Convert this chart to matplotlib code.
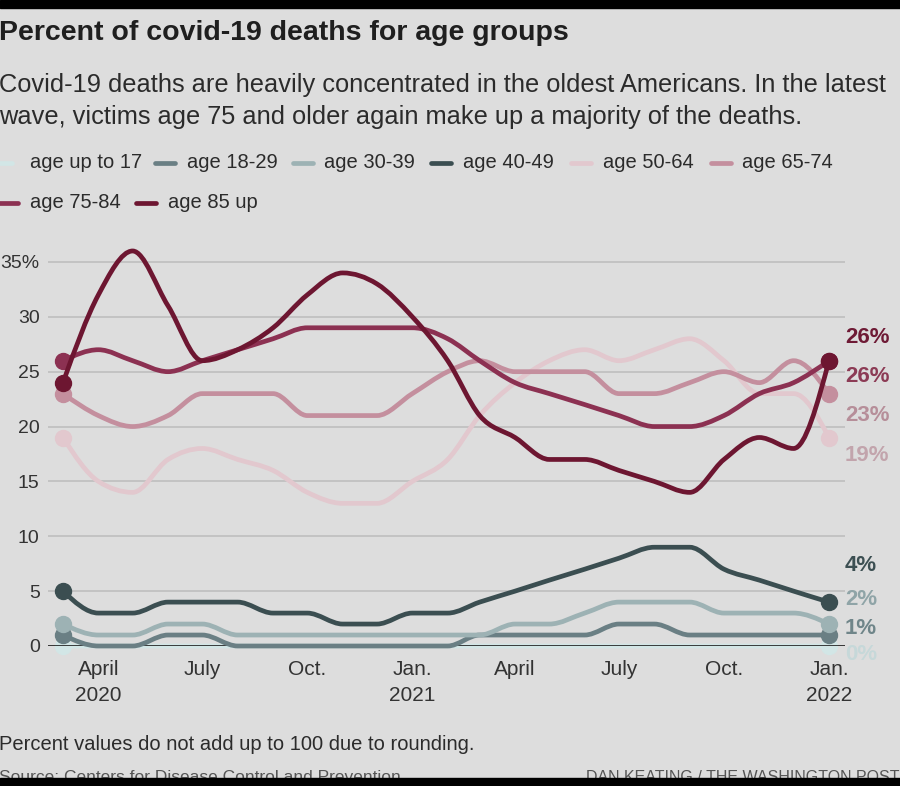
import numpy as np
import pandas as pd
import matplotlib
matplotlib.use("Agg")
import matplotlib.pyplot as plt
import matplotlib.dates as mdates
from matplotlib.path import Path
from matplotlib.patches import PathPatch, Rectangle
from matplotlib.lines import Line2D

plt.rcParams["font.family"] = ["Liberation Sans", "DejaVu Sans"]

# monthly share of covid-19 deaths (%), March 2020 - January 2022
months = pd.date_range("2020-03-01", "2022-01-01", freq="MS")

age_up_to_17 = [0, 0, 0, 0, 0, 0, 0, 0, 0, 0, 0, 0, 0, 0, 0, 0, 0, 0, 0, 0, 0, 0, 0]
age_18_29 = [1, 0, 0, 1, 1, 0, 0, 0, 0, 0, 0, 0, 1, 1, 1, 1, 2, 2, 1, 1, 1, 1, 1]
age_30_39 = [2, 1, 1, 2, 2, 1, 1, 1, 1, 1, 1, 1, 1, 2, 2, 3, 4, 4, 4, 3, 3, 3, 2]
age_40_49 = [5, 3, 3, 4, 4, 4, 3, 3, 2, 2, 3, 3, 4, 5, 6, 7, 8, 9, 9, 7, 6, 5, 4]
age_50_64 = [19, 15, 14, 17, 18, 17, 16, 14, 13, 13, 15, 17, 21, 24, 26, 27, 26, 27, 28, 26, 23, 23, 19]
age_65_74 = [23, 21, 20, 21, 23, 23, 23, 21, 21, 21, 23, 25, 26, 25, 25, 25, 23, 23, 24, 25, 24, 26, 23]
age_75_84 = [26, 27, 26, 25, 26, 27, 28, 29, 29, 29, 29, 28, 26, 24, 23, 22, 21, 20, 20, 21, 23, 24, 26]
age_85_up = [24, 32, 36, 31, 26, 27, 29, 32, 34, 33, 30, 26, 21, 19, 17, 17, 16, 15, 14, 17, 19, 18, 26]

series_names = ["age up to 17", "age 18-29", "age 30-39", "age 40-49",
                "age 50-64", "age 65-74", "age 75-84", "age 85 up"]
series_values = [age_up_to_17, age_18_29, age_30_39, age_40_49,
                 age_50_64, age_65_74, age_75_84, age_85_up]

tick_dates = ["2020-04-01", "2020-07-01", "2020-10-01", "2021-01-01",
              "2021-04-01", "2021-07-01", "2021-10-01", "2022-01-01"]
tick_labels = ["April\n2020", "July", "Oct.", "Jan.\n2021",
               "April", "July", "Oct.", "Jan.\n2022"]

# styling
BG = "#dddddd"
TXT = "#2b2b2b"
line_colors = ["#d2e6e6", "#6a7f84", "#9db2b4", "#3b4e51",
               "#e2c8ce", "#c48f9e", "#8c3152", "#6d1631"]
label_colors = ["#c6d8d9", "#6f8589", "#8fa4a7", "#3c4f52",
                "#c2a4ac", "#b68e99", "#8c3b55", "#6e1a35"]
# vertical spot (in % units) of the end labels, nudged apart
label_y = [-0.8, 1.6, 4.2, 7.3, 17.4, 21.0, 24.6, 28.1]

W, H = 900, 786


def fx(px):
    return px / W


def fy(py):
    return 1 - py / H


def monotone_path(x, y):
    # cubic bezier path through the points, monotone in x (like d3.curveMonotoneX)
    x = np.asarray(x, float)
    y = np.asarray(y, float)
    n = len(x)
    h = np.diff(x)
    s = np.diff(y) / h
    t = np.zeros(n)
    for i in range(1, n - 1):
        h0, h1, s0, s1 = h[i - 1], h[i], s[i - 1], s[i]
        p = (s0 * h1 + s1 * h0) / (h0 + h1)
        t[i] = (np.sign(s0) + np.sign(s1)) * min(abs(s0), abs(s1), 0.5 * abs(p))
    t[0] = (3 * s[0] - t[1]) / 2
    t[-1] = (3 * s[-1] - t[-2]) / 2
    verts = [(x[0], y[0])]
    codes = [Path.MOVETO]
    for i in range(n - 1):
        dx = h[i] / 3
        verts += [(x[i] + dx, y[i] + dx * t[i]),
                  (x[i + 1] - dx, y[i + 1] - dx * t[i + 1]),
                  (x[i + 1], y[i + 1])]
        codes += [Path.CURVE4] * 3
    return Path(verts, codes)


fig = plt.figure(figsize=(9, 7.86), dpi=100)
fig.patch.set_facecolor(BG)

ax = fig.add_axes([fx(48), fy(646), fx(845) - fx(48), fy(240) - fy(646)])
ax.set_facecolor("none")
for sp in ax.spines.values():
    sp.set_visible(False)

xnum = mdates.date2num(months)
px_per_day = (829 - 63) / (xnum[-1] - xnum[0])
ax.set_xlim(xnum[0] - 15 / px_per_day, xnum[-1] + 16 / px_per_day)
ax.set_ylim(0, 37)

ax.set_yticks(range(0, 40, 5))
ax.set_yticklabels(["0", "5", "10", "15", "20", "25", "30", "35%"])
ax.yaxis.grid(True, color="#bcbcbc", lw=1.1)
ax.set_axisbelow(True)
ax.tick_params(axis="y", length=0, pad=6, labelsize=14, labelcolor="#333333")

ax.set_xticks(mdates.date2num(pd.to_datetime(tick_dates)))
ax.set_xticklabels(tick_labels, linespacing=1.45)
ax.tick_params(axis="x", length=0, pad=10, labelsize=15, labelcolor="#333333")

ax.axhline(0, color="#1e1e1e", lw=1.2, zorder=2.5)

for k, (name, vals) in enumerate(zip(series_names, series_values)):
    z = 2 if k == 0 else 3 + k
    patch = PathPatch(monotone_path(xnum, vals), facecolor="none",
                      edgecolor=line_colors[k], lw=3.4, capstyle="round",
                      joinstyle="round", zorder=z, clip_on=False)
    ax.add_patch(patch)
    ax.plot([xnum[0], xnum[-1]], [vals[0], vals[-1]], "o", ms=11.5,
            color=line_colors[k], zorder=z, clip_on=False)
    ax.text(1.0, label_y[k], f"{vals[-1]}%", transform=ax.get_yaxis_transform(),
            ha="left", va="center", fontsize=16, fontweight="bold",
            color=label_colors[k])

# titles
fig.text(fx(-1), fy(33), "Percent of covid-19 deaths for age groups",
         fontsize=20.5, fontweight="bold", color="#1f1f1f", va="center")
fig.text(fx(-1), fy(85), "Covid-19 deaths are heavily concentrated in the oldest Americans. In the latest",
         fontsize=18.3, color=TXT, va="center")
fig.text(fx(-1), fy(117), "wave, victims age 75 and older again make up a majority of the deaths.",
         fontsize=18.3, color=TXT, va="center")

# legend, two rows
legend_pos = [(-8, 163, 30), (155, 163, 187), (293, 163, 324), (431, 163, 463),
              (571, 163, 603), (711, 163, 742), (-2, 203, 30), (136, 203, 168)]
for k, (mx, my, tx) in enumerate(legend_pos):
    fig.add_artist(Line2D([fx(mx), fx(mx + 20)], [fy(my), fy(my)],
                          color=line_colors[k], lw=3.4, solid_capstyle="round"))
    fig.text(fx(tx), fy(my), series_names[k], fontsize=14.5, color=TXT,
             va="center")

fig.text(fx(-1), fy(745), "Percent values do not add up to 100 due to rounding.",
         fontsize=14.5, color=TXT, va="center")
fig.text(fx(-1), fy(777), "Source: Centers for Disease Control and Prevention",
         fontsize=12.5, color="#555555", va="center")
fig.text(fx(899), fy(777), "DAN KEATING / THE WASHINGTON POST",
         fontsize=11.5, color="#555555", va="center", ha="right")

# black screen borders
fig.add_artist(Rectangle((0, fy(8)), 1, 8 / H, transform=fig.transFigure,
                         color="black", zorder=20))
fig.add_artist(Rectangle((0, 0), 1, 8 / H, transform=fig.transFigure,
                         color="black", zorder=20))

fig.savefig("out.png", dpi=100, facecolor=BG)
